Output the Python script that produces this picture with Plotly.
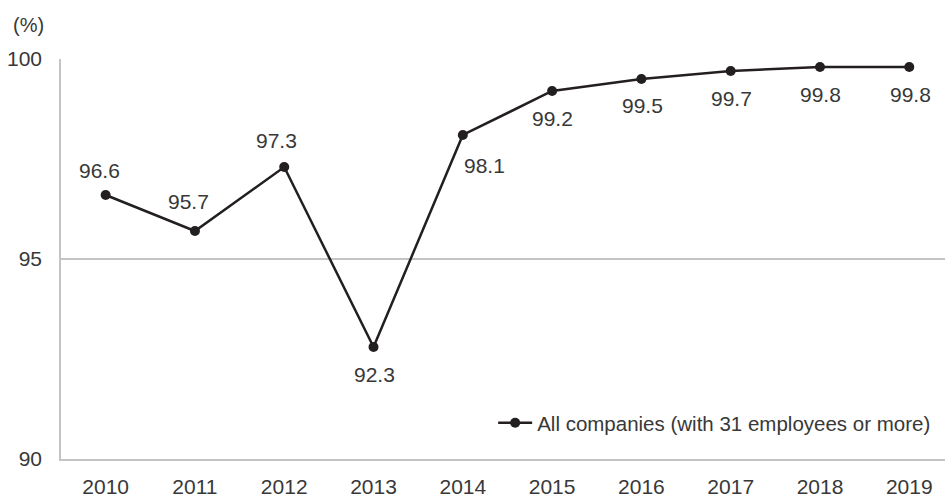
import plotly.graph_objects as go

years = [2010, 2011, 2012, 2013, 2014, 2015, 2016, 2017, 2018, 2019]
values = [96.6, 95.7, 97.3, 92.8, 98.1, 99.2, 99.5, 99.7, 99.8, 99.8]
labels = ["96.6", "95.7", "97.3", "92.3", "98.1", "99.2", "99.5", "99.7", "99.8", "99.8"]
series_name = "All companies (with 31 employees or more)"

# label placement (pixel offsets relative to the point)
offsets = [(-6, 25), (-6, 30), (-8, 27), (1, -27), (22, -30),
           (0, -27), (1, -26), (1, -27), (1, -27), (1, -27)]

FONT = "Liberation Sans, Arial, sans-serif"
TXT = "#383838"
GRID = "#c4c4c4"
FS = 21

fig = go.Figure()
fig.add_trace(go.Scatter(
    x=years, y=values, mode="lines+markers",
    name=series_name,
    line=dict(color="#231f20", width=2.5),
    marker=dict(color="#231f20", size=10),
))

for yr, v, t, (dx, dy) in zip(years, values, labels, offsets):
    fig.add_annotation(x=yr, y=v, xref="x", yref="y", text=t, showarrow=False,
                       xshift=dx, yshift=dy,
                       font=dict(family=FONT, size=FS, color=TXT))

fig.add_annotation(xref="paper", yref="paper", x=-0.0373, y=1.085,
                   text="(%)", showarrow=False, xanchor="center", yanchor="middle",
                   font=dict(family=FONT, size=20, color=TXT))

fig.update_layout(
    width=945, height=498,
    margin=dict(l=61, r=0, t=59, b=37),
    paper_bgcolor="white", plot_bgcolor="white",
    font=dict(family=FONT, size=FS, color=TXT),
    showlegend=True,
    legend=dict(x=0.99, y=0.09, xanchor="right", yanchor="middle",
                bgcolor="rgba(0,0,0,0)", borderwidth=0,
                font=dict(family=FONT, size=20.5, color=TXT),
                itemwidth=34),
    xaxis=dict(range=[years[0] - 0.5, years[-1] + 0.4], tickvals=years,
               showgrid=False, showline=True, linecolor=GRID, linewidth=1.5,
               zeroline=False, ticks="", ticklabelstandoff=8,
               tickfont=dict(family=FONT, size=FS, color=TXT)),
    yaxis=dict(range=[90, 100], tickvals=[90, 95, 100],
               showgrid=True, gridcolor=GRID, gridwidth=1.5,
               showline=True, linecolor=GRID, linewidth=1.5,
               zeroline=False, ticks="", ticklabelstandoff=13,
               tickfont=dict(family=FONT, size=FS, color=TXT)),
)

fig.write_html("out.html")
